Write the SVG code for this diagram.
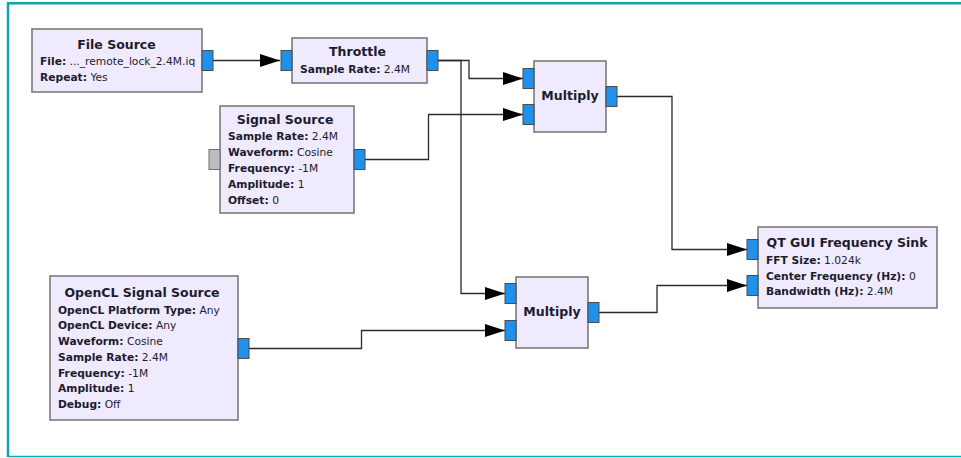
<svg xmlns="http://www.w3.org/2000/svg" width="961" height="458" viewBox="0 0 961 458">
  <style>
    .blk { fill: #efeafd; stroke: #7a7a7a; stroke-width: 1.6; }
    .port { fill: #1f90ec; stroke: #4d4d4d; stroke-width: 1; }
    .port-off { fill: #bdbdbd; stroke: #6e6e6e; stroke-width: 1; }
    .title { font-family: "DejaVu Sans", sans-serif; font-size: 12.5px; font-weight: bold; fill: #1c1c2c; text-anchor: middle; }
    .prm { font-family: "DejaVu Sans", sans-serif; font-size: 10.7px; fill: #1c1c2c; }
    .prm .k { font-weight: bold; }
    .wire { fill: none; stroke: #2a2a2a; stroke-width: 1.3; marker-end: url(#arrow); }
    .frame { fill: none; stroke: #10a2b6; }
  </style>
  <defs>
    <marker id="arrow" markerUnits="userSpaceOnUse" markerWidth="22" markerHeight="14" refX="20" refY="6.5" orient="auto">
      <path d="M0,0 L20,6.5 L0,13 Z" fill="#000"/>
    </marker>
  </defs>

  <rect width="961" height="458" fill="#fff"/>

  <!-- canvas frame -->
  <g id="frame">
    <path class="frame" stroke-width="2.5" d="M8,457 V3.2 H961"/>
    <path class="frame" stroke="#5ab7c8" stroke-width="1.6" d="M8,456.5 H961"/>
  </g>

  <!-- connections -->
  <g id="connectors">
    <path class="wire" d="M213,60.5 H280"/>
    <path class="wire" d="M438,60.5 H469 V78.5 H523"/>
    <path class="wire" d="M438,60.5 H461 V293.5 H505"/>
    <path class="wire" d="M365,159.5 H428.5 V114.5 H523"/>
    <path class="wire" d="M617,96.5 H672 V249.5 H747"/>
    <path class="wire" d="M249,348.5 H361.5 V330.5 H505"/>
    <path class="wire" d="M599,312.5 H657 V285.5 H747"/>
  </g>

  <g id="file_source">
    <rect class="blk" x="32" y="29" width="170" height="63"/>
    <rect class="port" x="202" y="50.5" width="11" height="20"/>
    <text class="title" x="116.5" y="48.5">File Source</text>
    <text class="prm" x="40" y="65"><tspan class="k">File:</tspan> ..._remote_lock_2.4M.iq</text>
    <text class="prm" x="40" y="81"><tspan class="k">Repeat:</tspan> Yes</text>
  </g>

  <g id="throttle">
    <rect class="blk" x="292" y="38" width="135" height="45"/>
    <rect class="port" x="281" y="50.5" width="11" height="20"/>
    <rect class="port" x="427" y="50.5" width="11" height="20"/>
    <text class="title" x="357.5" y="56">Throttle</text>
    <text class="prm" x="300" y="73"><tspan class="k">Sample Rate:</tspan> 2.4M</text>
  </g>

  <g id="signal_source">
    <rect class="blk" x="220" y="106" width="134" height="107"/>
    <rect class="port-off" x="209" y="149.5" width="11" height="20"/>
    <rect class="port" x="354" y="149.5" width="11" height="20"/>
    <text class="title" x="285" y="123.5">Signal Source</text>
    <text class="prm" x="228" y="140"><tspan class="k">Sample Rate:</tspan> 2.4M</text>
    <text class="prm" x="228" y="156"><tspan class="k">Waveform:</tspan> Cosine</text>
    <text class="prm" x="228" y="171.5"><tspan class="k">Frequency:</tspan> -1M</text>
    <text class="prm" x="228" y="187.5"><tspan class="k">Amplitude:</tspan> 1</text>
    <text class="prm" x="228" y="203.5"><tspan class="k">Offset:</tspan> 0</text>
  </g>

  <g id="multiply_0">
    <rect class="blk" x="534" y="61" width="72" height="71"/>
    <rect class="port" x="523" y="68.5" width="11" height="20"/>
    <rect class="port" x="523" y="104.5" width="11" height="20"/>
    <rect class="port" x="606" y="86.5" width="11" height="20"/>
    <text class="title" x="570" y="100">Multiply</text>
  </g>

  <g id="multiply_1">
    <rect class="blk" x="516" y="277" width="72" height="71"/>
    <rect class="port" x="505" y="283.5" width="11" height="20"/>
    <rect class="port" x="505" y="320.5" width="11" height="20"/>
    <rect class="port" x="588" y="302.5" width="11" height="20"/>
    <text class="title" x="552" y="315.5">Multiply</text>
  </g>

  <g id="opencl_signal_source">
    <rect class="blk" x="50" y="276" width="188" height="144"/>
    <rect class="port" x="238" y="338.5" width="11" height="20"/>
    <text class="title" x="142" y="297">OpenCL Signal Source</text>
    <text class="prm" x="58" y="313.5"><tspan class="k">OpenCL Platform Type:</tspan> Any</text>
    <text class="prm" x="58" y="329"><tspan class="k">OpenCL Device:</tspan> Any</text>
    <text class="prm" x="58" y="345"><tspan class="k">Waveform:</tspan> Cosine</text>
    <text class="prm" x="58" y="361"><tspan class="k">Sample Rate:</tspan> 2.4M</text>
    <text class="prm" x="58" y="376.5"><tspan class="k">Frequency:</tspan> -1M</text>
    <text class="prm" x="58" y="392"><tspan class="k">Amplitude:</tspan> 1</text>
    <text class="prm" x="58" y="408"><tspan class="k">Debug:</tspan> Off</text>
  </g>

  <g id="qt_gui_freq_sink">
    <rect class="blk" x="758" y="227" width="179" height="81"/>
    <rect class="port" x="747" y="239.5" width="11" height="20"/>
    <rect class="port" x="747" y="275.5" width="11" height="20"/>
    <text class="title" x="847" y="247">QT GUI Frequency Sink</text>
    <text class="prm" x="766" y="264"><tspan class="k">FFT Size:</tspan> 1.024k</text>
    <text class="prm" x="766" y="280"><tspan class="k">Center Frequency (Hz):</tspan> 0</text>
    <text class="prm" x="766" y="295"><tspan class="k">Bandwidth (Hz):</tspan> 2.4M</text>
  </g>
</svg>
